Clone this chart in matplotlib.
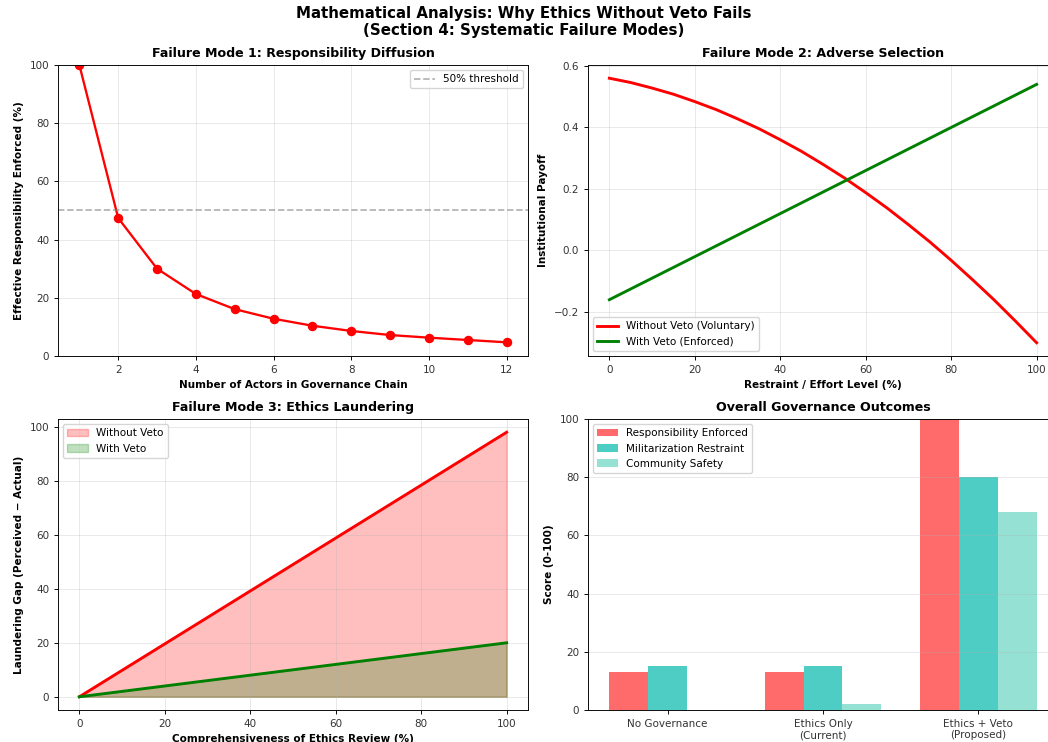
import numpy as np
import matplotlib
matplotlib.use("Agg")
import matplotlib.pyplot as plt

# Failure mode 1: responsibility left after n actors in the chain
actors = [1, 2, 3, 4, 5, 6, 7, 8, 9, 10, 11, 12]
responsibility = [100, 47.4, 30.0, 21.3, 16.1, 12.8, 10.4, 8.6, 7.2, 6.3, 5.5, 4.7]

# Failure mode 2: payoff vs restraint level
effort = [0, 5, 10, 15, 20, 25, 30, 35, 40, 45, 50,
          55, 60, 65, 70, 75, 80, 85, 90, 95, 100]
payoff_voluntary = [0.560, 0.546, 0.528, 0.508, 0.484, 0.458, 0.428, 0.396, 0.360, 0.322, 0.280,
                    0.236, 0.188, 0.138, 0.084, 0.028, -0.032, -0.095, -0.160, -0.229, -0.300]
effort_veto = [0, 100]
payoff_enforced = [-0.16, 0.54]

# Failure mode 3: laundering gap
review = [0, 100]
gap_without = [0, 98]
gap_with = [0, 20]

# Overall outcomes
scenarios = ["No Governance", "Ethics Only\n(Current)", "Ethics + Veto\n(Proposed)"]
resp_enforced = [13, 13, 100]
mil_restraint = [15, 15, 80]
community_safety = [0, 2, 68]

# the reference looks like a bigger figure shrunk down, so scale everything
s = 0.83
plt.rcParams.update({
    "font.size": 9 * s,
    "xtick.labelsize": 9 * s,
    "ytick.labelsize": 9 * s,
    "xtick.labelcolor": "#333333",
    "ytick.labelcolor": "#333333",
    "legend.fontsize": 9 * s,
    "axes.linewidth": 0.8 * s,
    "grid.linewidth": 0.8 * s,
    "xtick.major.size": 3.5 * s,
    "ytick.major.size": 3.5 * s,
    "xtick.major.width": 0.8 * s,
    "ytick.major.width": 0.8 * s,
})

fig = plt.figure(figsize=(10.48, 7.42), dpi=100)
fig.suptitle("Mathematical Analysis: Why Ethics Without Veto Fails\n(Section 4: Systematic Failure Modes)",
             fontsize=13 * s, fontweight="bold", y=0.992)

w, h = 470 / 1048, 291 / 742
ax1 = fig.add_axes([58 / 1048, 1 - 356 / 742, w, h])
ax2 = fig.add_axes([588 / 1048, 1 - 356 / 742, w, h])
ax3 = fig.add_axes([58 / 1048, 1 - 710 / 742, w, h])
ax4 = fig.add_axes([588 / 1048, 1 - 710 / 742, w, h])

tfs = 11 * s
lfs = 9 * s

# panel 1
ax1.plot(actors, responsibility, "o-", color="red", lw=2 * s, markersize=7 * s)
ax1.axhline(50, color="gray", ls="--", lw=1.5 * s, alpha=0.6, label="50% threshold")
ax1.set_ylim(0, 100)
ax1.set_title("Failure Mode 1: Responsibility Diffusion", fontsize=tfs, fontweight="bold")
ax1.set_xlabel("Number of Actors in Governance Chain", fontsize=lfs, fontweight="bold")
ax1.set_ylabel("Effective Responsibility Enforced (%)", fontsize=lfs, fontweight="bold")
ax1.legend(loc="upper right")
ax1.grid(True, alpha=0.3)

# panel 2
ax2.plot(effort, payoff_voluntary, color="red", lw=2.5 * s, label="Without Veto (Voluntary)")
ax2.plot(effort_veto, payoff_enforced, color="green", lw=2.5 * s, label="With Veto (Enforced)")
ax2.set_title("Failure Mode 2: Adverse Selection", fontsize=tfs, fontweight="bold")
ax2.set_xlabel("Restraint / Effort Level (%)", fontsize=lfs, fontweight="bold")
ax2.set_ylabel("Institutional Payoff", fontsize=lfs, fontweight="bold")
ax2.legend(loc="lower left")
ax2.grid(True, alpha=0.3)

# panel 3
ax3.fill_between(review, 0, gap_without, color="red", alpha=0.25, label="Without Veto")
ax3.fill_between(review, 0, gap_with, color="green", alpha=0.25, label="With Veto")
ax3.plot(review, gap_without, color="red", lw=2.5 * s)
ax3.plot(review, gap_with, color="green", lw=2.5 * s)
ax3.set_title("Failure Mode 3: Ethics Laundering", fontsize=tfs, fontweight="bold")
ax3.set_xlabel("Comprehensiveness of Ethics Review (%)", fontsize=lfs, fontweight="bold")
ax3.set_ylabel("Laundering Gap (Perceived \u2212 Actual)", fontsize=lfs, fontweight="bold")
ax3.legend(loc="upper left")
ax3.grid(True, alpha=0.3)

# panel 4
x = np.arange(len(scenarios))
bw = 0.25
ax4.bar(x - bw, resp_enforced, bw, color="#FF6B6B", label="Responsibility Enforced")
ax4.bar(x, mil_restraint, bw, color="#4ECDC4", label="Militarization Restraint")
ax4.bar(x + bw, community_safety, bw, color="#95E1D3", label="Community Safety")
ax4.set_xticks(x)
ax4.set_xticklabels(scenarios)
ax4.set_ylim(0, 100)
ax4.set_title("Overall Governance Outcomes", fontsize=tfs, fontweight="bold")
ax4.set_ylabel("Score (0-100)", fontsize=lfs, fontweight="bold")
ax4.legend(loc="upper left")
ax4.grid(True, alpha=0.3, axis="y")

fig.savefig("out.png", dpi=100)
